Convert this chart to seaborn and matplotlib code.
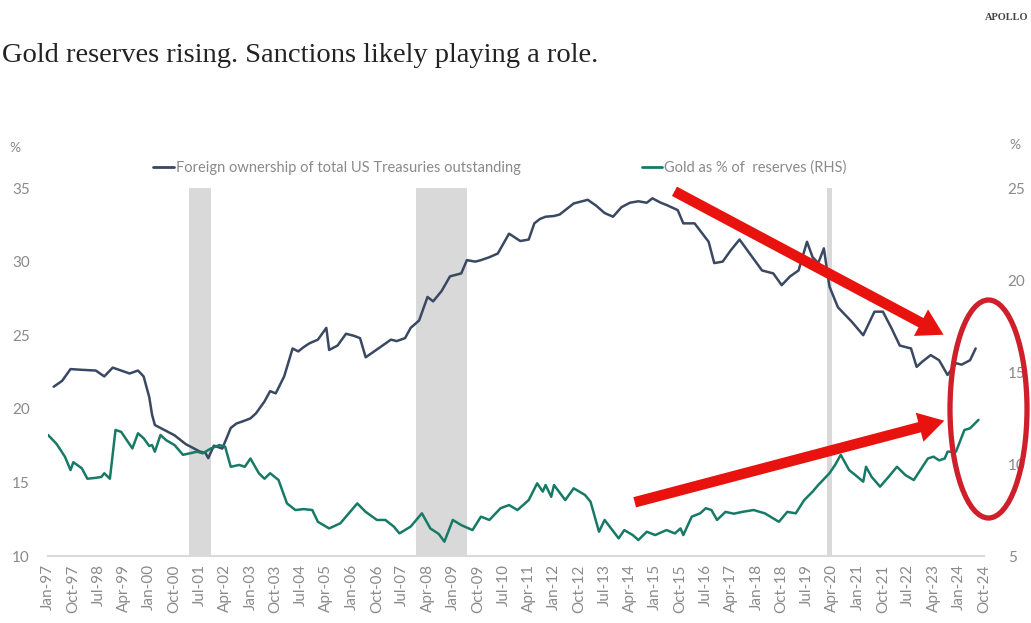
import numpy as np
import pandas as pd
import matplotlib
matplotlib.use("Agg")
import matplotlib.pyplot as plt
import matplotlib.patches as mpatches
from matplotlib.lines import Line2D
import seaborn as sns

# ---- data (x = months since Jan-1997) ----
fx_month = [2, 5, 8, 12, 17, 20, 23, 26, 29, 32, 34, 36, 37, 38, 41, 45, 49, 54, 56, 57,
            59, 62, 65, 67, 70, 72, 74, 77, 79, 81, 84, 87, 89, 91, 93, 96, 99, 100, 103, 106,
            109, 111, 113, 116, 119, 122, 124, 127, 129, 132, 135, 137, 140, 143, 147, 149, 152, 154, 157, 160,
            164, 168, 171, 173, 175, 177, 180, 182, 187, 192, 195, 198, 201, 204, 207, 210, 213, 215, 218, 220,
            224, 226, 230, 232, 235, 237, 240, 243, 246, 250, 254, 258, 261, 264, 267, 270, 272, 274, 276, 278,
            281, 283, 286, 290, 294, 297, 300, 303, 307, 309, 311, 314, 317, 320, 323, 325, 328, 330]
fx_share = [21.5, 21.9, 22.7, 22.65, 22.6, 22.2, 22.8, 22.6, 22.4, 22.6, 22.2, 20.8, 19.6, 18.9, 18.6, 18.2, 17.6, 17.1, 17.0, 16.65,
            17.5, 17.3, 18.7, 19.0, 19.2, 19.35, 19.7, 20.5, 21.2, 21.05, 22.2, 24.1, 23.9, 24.2, 24.45, 24.7, 25.5, 24.0, 24.3, 25.1,
            24.95, 24.8, 23.5, 23.9, 24.3, 24.7, 24.6, 24.8, 25.5, 26.0, 27.6, 27.3, 28.0, 29.0, 29.2, 30.1, 30.0, 30.1, 30.3, 30.55,
            31.9, 31.4, 31.5, 32.6, 32.9, 33.05, 33.1, 33.2, 33.95, 34.2, 33.8, 33.3, 33.05, 33.7, 34.0, 34.1, 34.0, 34.3, 34.0, 33.85,
            33.5, 32.6, 32.6, 32.1, 31.35, 29.9, 30.0, 30.8, 31.5, 30.45, 29.4, 29.2, 28.4, 29.0, 29.4, 31.35, 30.3, 29.9, 30.9, 28.3,
            26.9, 26.5, 25.9, 25.0, 26.6, 26.6, 25.5, 24.3, 24.1, 22.85, 23.2, 23.65, 23.3, 22.3, 23.1, 23.0, 23.3, 24.1]

gold_month = [0, 3, 6, 8, 9, 12, 14, 17, 19, 20, 22, 24, 26, 28, 30, 32, 34, 36, 37, 38,
              40, 42, 45, 48, 51, 53, 55, 58, 61, 63, 65, 68, 70, 72, 75, 77, 79, 82, 85, 88,
              91, 94, 96, 100, 104, 107, 110, 113, 117, 120, 123, 125, 129, 133, 136, 139, 141, 144, 147, 151,
              154, 157, 161, 164, 167, 171, 174, 176, 177, 179, 180, 184, 187, 191, 193, 196, 198, 203, 205, 208,
              210, 213, 216, 220, 223, 225, 226, 229, 232, 234, 236, 238, 241, 244, 247, 251, 255, 260, 263, 266,
              269, 272, 274, 278, 280, 282, 285, 288, 290, 291, 293, 296, 299, 302, 305, 308, 313, 315, 317, 319,
              320, 323, 326, 328, 331]
gold_share = [11.58, 11.1, 10.4, 9.67, 10.1, 9.77, 9.2, 9.25, 9.3, 9.5, 9.2, 11.85, 11.75, 11.3, 10.85, 11.67, 11.4, 10.98, 11.03, 10.67,
              11.58, 11.3, 11.03, 10.5, 10.6, 10.67, 10.58, 10.85, 11.03, 10.94, 9.85, 9.95, 9.85, 10.3, 9.5, 9.2, 9.5, 9.13, 7.86, 7.5,
              7.55, 7.5, 6.86, 6.5, 6.78, 7.32, 7.86, 7.4, 6.96, 6.96, 6.6, 6.23, 6.6, 7.32, 6.5, 6.2, 5.78, 6.96, 6.68, 6.41,
              7.14, 6.96, 7.6, 7.77, 7.5, 8.04, 8.95, 8.5, 8.86, 8.22, 8.86, 8.04, 8.68, 8.32, 7.95, 6.32, 6.96, 5.96, 6.41, 6.14,
              5.87, 6.32, 6.14, 6.41, 6.23, 6.5, 6.14, 7.14, 7.32, 7.6, 7.5, 6.96, 7.4, 7.3, 7.4, 7.5, 7.32, 6.86, 7.4, 7.32,
              8.04, 8.5, 8.86, 9.5, 9.95, 10.5, 9.67, 9.3, 9.04, 9.85, 9.3, 8.77, 9.3, 9.85, 9.4, 9.13, 10.3, 10.4, 10.2, 10.3,
              10.67, 10.67, 11.85, 11.94, 12.4]

tick_labels = ["Jan-97", "Oct-97", "Jul-98", "Apr-99", "Jan-00", "Oct-00", "Jul-01", "Apr-02",
               "Jan-03", "Oct-03", "Jul-04", "Apr-05", "Jan-06", "Oct-06", "Jul-07", "Apr-08",
               "Jan-09", "Oct-09", "Jul-10", "Apr-11", "Jan-12", "Oct-12", "Jul-13", "Apr-14",
               "Jan-15", "Oct-15", "Jul-16", "Apr-17", "Jan-18", "Oct-18", "Jul-19", "Apr-20",
               "Jan-21", "Oct-21", "Jul-22", "Apr-23", "Jan-24", "Oct-24"]
tick_step = 9

recession_start = [50, 131, 277]
recession_end = [58, 149, 279]

fx_label = "Foreign ownership of total US Treasuries outstanding"
gold_label = "Gold as % of  reserves (RHS)"

# ---- styling ----
sns.set_theme(style="white")
plt.rcParams["font.family"] = ["Lato", "DejaVu Sans"]

NAVY = "#3a4862"
TEAL = "#177a66"
GREY_TXT = "#8a8a8a"
BAND = "#d9d9d9"

fig = plt.figure(figsize=(10.31, 6.23), dpi=100)
ax = fig.add_axes([0.0466, 0.1075, 0.9079, 0.5907])
ax2 = ax.twinx()

fx_df = pd.DataFrame({"month": fx_month, "value": fx_share})
gold_df = pd.DataFrame({"month": gold_month, "value": gold_share})

for s, e in zip(recession_start, recession_end):
    ax.axvspan(s, e, color=BAND, lw=0, zorder=0)

sns.lineplot(data=fx_df, x="month", y="value", ax=ax, color=NAVY, lw=1.8, zorder=3)
sns.lineplot(data=gold_df, x="month", y="value", ax=ax2, color=TEAL, lw=1.8, zorder=3)

ax.set_xlim(0, 333)
ax.set_ylim(10, 35)
ax2.set_ylim(5, 25)
ax.set_yticks([10, 15, 20, 25, 30, 35])
ax2.set_yticks([5, 10, 15, 20, 25])
ax.set_xticks(np.arange(len(tick_labels)) * tick_step)
ax.set_xticklabels(tick_labels, rotation=90)
for a in (ax, ax2):
    a.set_xlabel("")
    a.set_ylabel("")
    for sp in a.spines.values():
        sp.set_visible(False)
    a.tick_params(length=0, colors=GREY_TXT, labelsize=11)
ax.tick_params(axis="y", pad=13)
ax2.tick_params(axis="y", pad=17)
ax.tick_params(axis="x", pad=6)
ax.spines["bottom"].set_visible(True)
ax.spines["bottom"].set_color(BAND)
ax.spines["bottom"].set_linewidth(1.5)

# unit markers above each axis
fig.text(15 / 1031, 1 - 148 / 623, "%", color=GREY_TXT, fontsize=10, ha="center", va="center")
fig.text(1015 / 1031, 1 - 145 / 623, "%", color=GREY_TXT, fontsize=10, ha="center", va="center")

# legend
handles = [Line2D([], [], color=NAVY, lw=2), Line2D([], [], color=TEAL, lw=2)]
leg = fig.legend(handles, [fx_label, gold_label], ncol=2, frameon=False,
                 loc="center left", bbox_to_anchor=(140 / 1031, 1 - 168 / 623),
                 handlelength=1.4, handletextpad=0.15, columnspacing=8.3,
                 fontsize=10.5)
for t in leg.get_texts():
    t.set_color(GREY_TXT)

# title and brand
fig.text(2 / 1031, 1 - 55 / 623, "Gold reserves rising. Sanctions likely playing a role.",
         family="Liberation Serif", fontsize=20.5, color="#222222", ha="left", va="center")
fig.text(1028 / 1031, 1 - 18 / 623, "APOLLO", family="Liberation Serif", fontsize=7.5,
         weight="bold", color="#444444", ha="right", va="center")

# annotations: arrows and highlight ellipse
W, H = 1031, 623
def fpos(x, y):
    return (x / W, 1 - y / H)

for (x0, y0), (x1, y1) in [((672, 190), (946, 336)), ((632, 503), (947, 420))]:
    arr = mpatches.FancyArrowPatch(fpos(x0, y0), fpos(x1, y1), transform=fig.transFigure,
                                   arrowstyle="simple,head_width=2.7,head_length=2.3,tail_width=0.95",
                                   mutation_scale=8, color="#e8130e", lw=0, zorder=10)
    fig.patches.append(arr)

ell = mpatches.Ellipse(fpos(988.5, 409), 77 / W, 218 / H, transform=fig.transFigure,
                       fill=False, ec="#cf1f2a", lw=3.8, zorder=10)
fig.patches.append(ell)

fig.savefig("out.png", dpi=100)
